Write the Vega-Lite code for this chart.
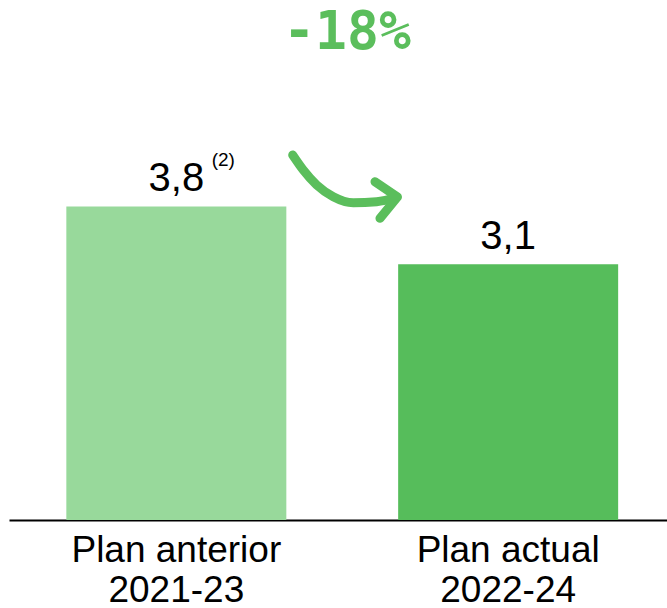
{
  "$schema": "https://vega.github.io/schema/vega-lite/v6.json",
  "autosize": {"type": "none"},
  "width": 658,
  "height": 520,
  "padding": {"left": 9, "right": 0, "top": 0, "bottom": 88},
  "background": "white",
  "config": {"view": {"stroke": null}},
  "datasets": {
    "bars": [
      {"plan": "Plan anterior|2021-23", "value": 3.8, "label": "3,8", "note": "(2)", "color": "#98D99B"},
      {"plan": "Plan actual|2022-24", "value": 3.1, "label": "3,1", "note": "", "color": "#56BD5B"}
    ],
    "curve": [
      {"px": 0.3485, "py": 4.424},
      {"px": 0.3804, "py": 4.242},
      {"px": 0.4208, "py": 4.061},
      {"px": 0.4708, "py": 3.919},
      {"px": 0.5310, "py": 3.846},
      {"px": 0.6015, "py": 3.858},
      {"px": 0.6617, "py": 3.912}
    ],
    "head": [
      {"px": 0.5964, "py": 4.101, "i": 0},
      {"px": 0.6642, "py": 3.915, "i": 1},
      {"px": 0.6114, "py": 3.657, "i": 2}
    ],
    "change": [
      {"px": 0.512, "py": 5.903, "text": "-18%"}
    ]
  },
  "layer": [
    {
      "data": {"name": "bars"},
      "layer": [
        {
          "mark": {"type": "bar"},
          "encoding": {
            "x": {
              "field": "plan", "type": "nominal", "sort": null,
              "scale": {"paddingInner": 0.337, "paddingOuter": 0.16, "align": 0.54},
              "axis": {
                "title": null, "labelAngle": 0,
                "labelExpr": "split(datum.label, '|')",
                "labelFont": "Liberation Sans", "labelFontSize": 37,
                "labelColor": "black", "labelLineHeight": 40,
                "labelPadding": 12, "labelLimit": 0, "ticks": false,
                "domainColor": "black", "domainWidth": 2
              }
            },
            "y": {
              "field": "value", "type": "quantitative",
              "scale": {"domain": [0, 6.303], "nice": false, "zero": true},
              "axis": null
            },
            "color": {"field": "color", "type": "nominal", "scale": null}
          }
        },
        {
          "mark": {"type": "text", "font": "Liberation Sans", "fontSize": 40, "color": "black", "baseline": "alphabetic", "dy": -15},
          "encoding": {
            "x": {"field": "plan", "type": "nominal", "sort": null},
            "y": {"field": "value", "type": "quantitative"},
            "text": {"field": "label"}
          }
        },
        {
          "mark": {"type": "text", "font": "Liberation Sans", "fontSize": 19, "color": "black", "baseline": "alphabetic", "dy": -40, "dx": 47},
          "encoding": {
            "x": {"field": "plan", "type": "nominal", "sort": null},
            "y": {"field": "value", "type": "quantitative"},
            "text": {"field": "note"}
          }
        }
      ]
    },
    {
      "layer": [
        {
          "data": {"name": "curve"},
          "mark": {"type": "line", "interpolate": "monotone", "color": "#5BBE5C", "strokeWidth": 9, "strokeCap": "round", "strokeJoin": "round"},
          "encoding": {
            "x": {"field": "px", "type": "quantitative", "scale": {"domain": [-0.506, 1.476], "nice": false, "zero": false}, "axis": null},
            "y": {"field": "py", "type": "quantitative", "axis": null}
          }
        },
        {
          "data": {"name": "head"},
          "mark": {"type": "line", "color": "#5BBE5C", "strokeWidth": 9, "strokeCap": "round", "strokeJoin": "round"},
          "encoding": {
            "x": {"field": "px", "type": "quantitative"},
            "y": {"field": "py", "type": "quantitative"},
            "order": {"field": "i"}
          }
        },
        {
          "data": {"name": "change"},
          "mark": {"type": "text", "font": "DejaVu Sans Mono", "fontWeight": "bold", "fontSize": 53, "color": "#5BBE5C", "baseline": "middle", "align": "center"},
          "encoding": {
            "x": {"field": "px", "type": "quantitative"},
            "y": {"field": "py", "type": "quantitative"},
            "text": {"field": "text"}
          }
        }
      ]
    }
  ],
  "resolve": {"scale": {"x": "independent"}}
}
